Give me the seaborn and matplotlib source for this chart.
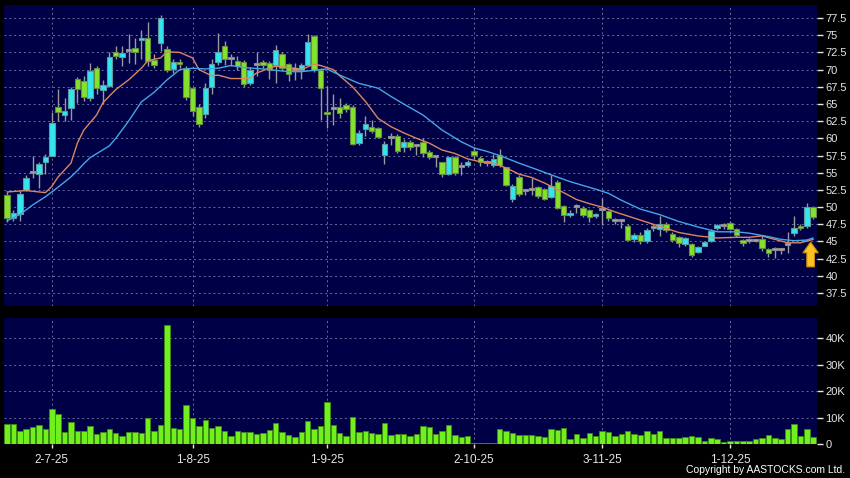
import numpy as np
import pandas as pd
import seaborn as sns
import matplotlib.pyplot as plt

# daily sessions, index 0 = first visible candle
opens = [51.8, 48.4, 49.0, 52.5, 55.0, 54.8, 56.6, 57.5, 64.6, 63.4,
         64.4, 68.7, 68.3, 65.9, 70.2, 67.1, 67.6, 72.5, 71.8, 72.7,
         73.2, 74.3, 74.6, 71.4, 73.9, 73.0, 70.1, 71.1, 70.3, 67.3,
         64.6, 63.6, 67.5, 71.1, 73.4, 71.5, 71.3, 71.1, 68.0, 70.7,
         71.1, 70.9, 70.7, 72.2, 70.8, 70.0, 70.0, 70.7, 74.9, 69.9,
         63.8, 64.2, 64.6, 64.9, 64.6, 59.3, 61.4, 61.7, 61.5, 57.6,
         60.1, 60.4, 58.8, 59.5, 58.9, 59.5, 58.0, 57.3, 56.5, 54.8,
         57.3, 55.8, 56.1, 58.1, 57.2, 56.4, 56.1, 57.6, 55.8, 51.2,
         54.4, 52.3, 52.5, 52.9, 52.6, 51.5, 53.7, 50.1, 48.9, 50.0,
         49.9, 49.5, 48.7, 49.5, 49.4, 48.0, 48.0, 47.3, 45.3, 45.9,
         45.0, 47.0, 46.8, 47.6, 46.1, 45.6, 44.6, 44.6, 43.5, 44.4,
         45.0, 46.9, 47.3, 47.7, 46.8, 45.2, 45.1, 45.1, 45.3, 43.9,
         43.8, 43.8, 44.5, 46.2, 47.3, 47.2, 50.0]
highs = [52.2, 49.5, 52.3, 54.7, 57.5, 56.6, 57.7, 63.9, 67.2, 65.8,
         67.4, 68.9, 69.0, 71.0, 70.5, 68.5, 72.6, 73.5, 73.4, 75.2,
         74.6, 75.7, 77.0, 72.2, 77.9, 73.4, 71.6, 71.5, 70.5, 67.5,
         65.0, 68.0, 71.5, 75.3, 74.1, 72.3, 72.0, 71.4, 70.4, 72.5,
         71.4, 71.2, 73.6, 72.6, 71.0, 71.0, 71.0, 75.2, 75.0, 70.2,
         67.6, 66.5, 65.9, 65.2, 64.9, 61.2, 63.3, 62.7, 61.7, 59.6,
         60.8, 60.6, 59.9, 59.7, 59.2, 60.1, 58.3, 57.6, 56.6, 57.5,
         57.5, 56.5, 56.9, 58.7, 57.5, 56.9, 57.7, 58.4, 55.9, 53.4,
         54.6, 52.7, 54.2, 53.1, 52.8, 54.7, 53.9, 50.3, 49.6, 50.5,
         50.1, 49.7, 49.2, 51.3, 49.6, 48.4, 48.3, 47.5, 46.2, 46.4,
         46.9, 47.5, 48.7, 47.8, 46.4, 45.8, 45.7, 44.8, 44.4, 45.1,
         46.8, 47.6, 47.7, 47.9, 47.0, 45.4, 45.5, 45.4, 46.0, 44.1,
         44.2, 44.1, 46.3, 48.7, 47.6, 50.6, 50.1]
lows = [47.8, 48.0, 48.0, 52.3, 54.3, 52.8, 54.8, 57.4, 62.5, 62.5,
        62.6, 65.2, 65.5, 65.5, 66.5, 65.0, 67.5, 71.5, 70.5, 71.0,
        70.8, 71.5, 70.5, 70.2, 72.7, 69.7, 69.5, 70.3, 65.6, 63.2,
        61.6, 63.0, 66.5, 70.6, 70.6, 70.5, 70.0, 67.5, 67.7, 69.0,
        70.3, 68.6, 68.0, 69.9, 68.4, 68.5, 68.7, 70.5, 69.6, 62.6,
        61.5, 62.0, 63.0, 63.9, 59.0, 59.1, 60.4, 60.8, 60.0, 56.2,
        59.0, 57.8, 58.0, 58.3, 57.6, 57.3, 57.0, 55.8, 54.4, 54.6,
        54.7, 54.6, 55.8, 57.0, 56.0, 56.0, 55.8, 55.9, 53.0, 50.8,
        51.6, 51.8, 51.8, 51.3, 51.0, 51.3, 49.7, 47.8, 48.6, 49.2,
        48.6, 47.8, 48.4, 47.4, 47.9, 47.6, 47.0, 45.0, 44.9, 44.6,
        44.8, 46.5, 45.8, 46.3, 44.9, 44.2, 44.4, 42.8, 43.3, 44.3,
        44.9, 46.6, 46.8, 46.6, 45.7, 44.4, 44.8, 44.9, 43.6, 42.8,
        42.6, 43.2, 43.3, 45.8, 46.7, 46.9, 48.3]
closes = [48.4, 49.1, 51.9, 54.3, 55.0, 56.3, 57.3, 62.2, 63.8, 64.0,
          67.2, 67.2, 66.0, 69.8, 67.3, 67.7, 71.9, 72.0, 72.4, 72.7,
          72.6, 74.6, 71.3, 70.7, 77.5, 70.0, 71.1, 70.8, 66.0, 64.0,
          62.1, 67.3, 70.8, 72.6, 71.5, 71.5, 70.5, 67.9, 70.0, 70.7,
          70.7, 69.9, 72.9, 70.2, 69.4, 70.0, 70.7, 74.0, 70.0, 67.3,
          63.5, 64.2, 63.7, 64.2, 59.2, 60.8, 62.1, 61.1, 60.2, 59.2,
          60.1, 58.2, 59.5, 58.8, 58.9, 57.8, 57.3, 57.3, 54.8, 57.3,
          54.9, 55.8, 56.6, 57.6, 56.6, 56.4, 57.0, 56.1, 53.2, 53.0,
          51.9, 52.3, 52.5, 51.6, 51.2, 53.1, 49.9, 48.9, 49.1, 50.0,
          48.9, 48.6, 49.0, 49.5, 48.4, 48.0, 48.0, 45.2, 45.9, 45.0,
          46.6, 47.0, 47.6, 46.6, 45.2, 44.8, 45.5, 43.0, 44.2, 44.9,
          46.5, 47.4, 47.3, 46.8, 45.9, 44.7, 45.1, 45.1, 44.0, 43.3,
          43.8, 43.8, 44.5, 46.9, 46.9, 50.0, 48.5]
volume_k = [7.6, 7.4, 5.1, 5.5, 6.3, 7.2, 5.5, 13.3, 11.2, 4.7,
            8.5, 4.8, 5.1, 6.9, 3.7, 4.7, 5.5, 4.1, 3.2, 4.7,
            4.7, 4.3, 9.9, 5.0, 7.2, 45.0, 6.1, 5.8, 14.6, 10.0,
            6.7, 8.9, 6.1, 6.9, 4.8, 3.2, 5.0, 4.4, 4.4, 3.6,
            4.3, 5.3, 7.9, 4.6, 3.3, 2.8, 4.7, 8.6, 5.8, 6.7,
            15.7, 7.2, 4.2, 3.2, 10.3, 4.6, 5.1, 4.3, 3.6, 8.0,
            3.3, 3.6, 3.9, 2.9, 3.8, 6.7, 6.3, 3.6, 5.1, 7.0,
            3.4, 2.8, 3.0, 0.5, 0.4, 0.4, 0.4, 5.7, 5.1, 4.3,
            3.4, 3.3, 3.4, 3.2, 2.8, 5.5, 5.3, 6.0, 2.0, 3.8,
            2.3, 4.3, 3.2, 4.8, 4.7, 2.9, 3.6, 5.1, 3.8, 3.3,
            4.8, 3.8, 5.0, 2.4, 2.4, 2.4, 2.5, 2.9, 2.8, 1.3,
            2.4, 2.0, 0.9, 1.3, 1.3, 1.3, 1.1, 1.9, 2.3, 3.3,
            2.2, 1.9, 5.5, 7.6, 3.0, 5.5, 2.8]

# moving averages at sample sessions
ma_fast_idx = [0, 3, 6, 7, 8, 10, 11, 12, 14, 15, 17, 19, 21, 22, 24, 25, 27, 29,
               30, 32, 33, 35, 37, 38, 39, 41, 42, 44, 45, 46, 48, 49, 51, 52, 54,
               56, 58, 60, 62, 64, 66, 68, 70, 72, 74, 76, 78, 80, 82, 84, 87, 89,
               91, 93, 95, 99, 102, 105, 108, 111, 114, 116, 118, 120, 122, 124, 126]
ma_fast = [52.2, 52.4, 52.1, 53.0, 54.4, 56.4, 59.3, 61.2, 63.4, 65.2, 67.1, 68.5,
           70.2, 71.3, 71.7, 72.6, 72.5, 71.7, 70.0, 69.1, 69.2, 68.7, 68.7, 68.8,
           69.5, 70.2, 70.5, 70.3, 70.2, 70.0, 70.8, 70.6, 70.0, 69.1, 67.5, 65.4,
           62.9, 61.7, 60.8, 60.0, 59.3, 58.3, 57.8, 57.0, 56.6, 56.4, 55.7, 54.8,
           54.3, 53.5, 52.1, 51.1, 50.5, 50.0, 49.3, 48.1, 47.2, 46.3, 45.8, 45.5,
           45.6, 45.6, 45.8, 45.3, 44.8, 44.8, 45.3]
ma_slow_idx = [0, 2, 4, 6, 8, 10, 11, 12, 13, 16, 17, 19, 21, 23, 25, 27, 29, 31,
               33, 35, 37, 40, 42, 44, 46, 48, 50, 52, 55, 58, 60, 62, 65, 68, 71,
               73, 75, 77, 80, 83, 85, 88, 92, 94, 96, 99, 102, 105, 108, 111, 114,
               116, 119, 121, 123, 125, 126]
ma_slow = [48.0, 48.9, 50.3, 51.5, 52.9, 54.4, 55.3, 56.3, 57.2, 58.9, 60.0, 62.5,
           65.3, 66.7, 68.5, 70.0, 70.2, 70.1, 70.2, 70.6, 70.3, 70.1, 69.9, 69.7,
           69.7, 69.9, 70.1, 69.2, 68.0, 67.3, 66.1, 65.0, 63.4, 61.2, 59.5, 58.6,
           58.1, 57.5, 56.4, 55.4, 54.7, 53.7, 52.6, 52.0, 51.0, 49.7, 48.9, 47.9,
           47.1, 46.4, 46.4, 46.2, 45.7, 45.3, 45.1, 45.2, 45.5]

date_ticks = [7, 29, 50, 73, 93, 113]
date_labels = ['2-7-25', '1-8-25', '1-9-25', '2-10-25', '3-11-25', '1-12-25']
price_ticks = [37.5, 40, 42.5, 45, 47.5, 50, 52.5, 55, 57.5, 60, 62.5, 65, 67.5,
               70, 72.5, 75, 77.5]
price_labels = ['37.5', '40', '42.5', '45', '47.5', '50', '52.5', '55', '57.5', '60',
                '62.5', '65', '67.5', '70', '72.5', '75', '77.5']
vol_ticks = [0, 10, 20, 30, 40]
vol_labels = ['0', '10K', '20K', '30K', '40K']

# signal arrow under the last sessions
arrow_idx = 125.6
arrow_tip = 44.9
arrow_base = 41.3

df = pd.DataFrame({'idx': np.arange(len(opens)), 'open': opens, 'high': highs,
                   'low': lows, 'close': closes, 'vol': volume_k})
fast = pd.DataFrame({'idx': ma_fast_idx, 'ma': ma_fast})
slow = pd.DataFrame({'idx': ma_slow_idx, 'ma': ma_slow})

BG = '#000046'
GRID = '#6b6b9c'
UP = '#33e6ee'
UP_EDGE = '#5a9ca4'
DOWN = '#84e22c'
DOWN_EDGE = '#64903c'
FLAT = '#a8a8a8'

sns.set_style('dark', rc={'axes.facecolor': BG, 'figure.facecolor': 'black',
                          'grid.color': GRID, 'text.color': 'white',
                          'xtick.color': 'white', 'ytick.color': 'white'})
plt.rcParams['font.family'] = ['Liberation Sans', 'DejaVu Sans']

fig = plt.figure(figsize=(8.5, 4.78), dpi=100, facecolor='black')
ax = fig.add_axes([0.0047, 0.3598, 0.9565, 0.6297])
axv = fig.add_axes([0.0047, 0.0711, 0.9565, 0.2636], sharex=ax)

# candles
body_lo = df[['open', 'close']].min(axis=1)
body_h = (df['close'] - df['open']).abs().clip(lower=0.3)
colors, edges = [], []
for o, c in zip(df['open'], df['close']):
    if c > o:
        colors.append(UP); edges.append(UP_EDGE)
    elif c < o:
        colors.append(DOWN); edges.append(DOWN_EDGE)
    else:
        colors.append(FLAT); edges.append('#8a8a8a')
ax.vlines(df['idx'], df['low'], df['high'], color='#9a9a9a', lw=1, zorder=2)
ax.bar(df['idx'], body_h, bottom=body_lo, width=0.85, color=colors,
       edgecolor=edges, linewidth=0.8, zorder=3)

sns.lineplot(data=fast, x='idx', y='ma', ax=ax, color='#dc8660', lw=1.0, zorder=4)
sns.lineplot(data=slow, x='idx', y='ma', ax=ax, color='#45a6e6', lw=1.0, zorder=4)

ax.annotate('', xy=(arrow_idx, arrow_tip), xytext=(arrow_idx, arrow_base),
            arrowprops=dict(arrowstyle='simple,head_length=0.7,head_width=1.0,tail_width=0.5',
                            mutation_scale=11, fc='#f7c51e', ec='#c98a10', lw=0.8,
                            shrinkA=0, shrinkB=0),
            zorder=6)

# volume
sns.barplot(data=df, x='idx', y='vol', ax=axv, native_scale=True, width=0.85,
            color='#70f01c', saturation=1, errorbar=None, edgecolor='#3f8a14',
            linewidth=0.6, zorder=3)

for a in (ax, axv):
    a.set_facecolor(BG)
    for s in a.spines.values():
        s.set_visible(False)
    a.set_xlabel('')
    a.set_ylabel('')
    a.yaxis.tick_right()
    a.grid(True, color=GRID, linestyle=(0, (2, 3)), linewidth=0.7)
    a.set_axisbelow(True)
    a.tick_params(axis='y', direction='out', length=4, width=1, pad=2,
                  labelsize=8, colors='#e6e6e6', right=True, left=False)

ax.set_xlim(-0.47, 126.6)
ax.set_ylim(35.6, 79.4)
ax.set_yticks(price_ticks)
ax.set_yticklabels(price_labels)
ax.set_xticks(date_ticks)
ax.tick_params(axis='x', length=0, labelbottom=False)

axv.set_ylim(0, 47.6)
axv.set_yticks(vol_ticks)
axv.set_yticklabels(vol_labels)
axv.set_xticks(date_ticks)
axv.set_xticklabels(date_labels)
axv.tick_params(axis='x', direction='out', length=3, width=1, pad=4,
                labelsize=8.5, colors='#e6e6e6', bottom=True)

fig.text(0.994, 0.016, 'Copyright by AASTOCKS.com Ltd.', ha='right', va='center',
         color='white', fontsize=7.5)

fig.savefig('out.png', dpi=100, facecolor='black')
